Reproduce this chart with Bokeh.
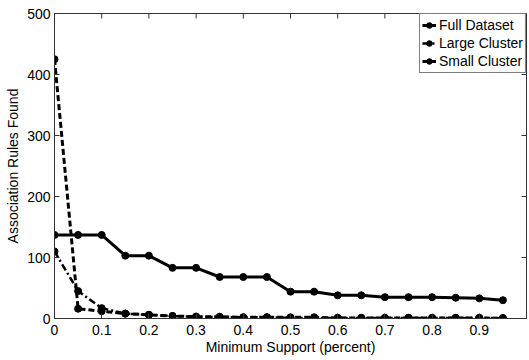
import math
from bokeh.plotting import figure
from bokeh.models import Range1d, FixedTicker, Legend
from bokeh.embed import file_html
from bokeh.resources import INLINE

support = [0.0, 0.05, 0.1, 0.15, 0.2, 0.25, 0.3, 0.35, 0.4, 0.45,
           0.5, 0.55, 0.6, 0.65, 0.7, 0.75, 0.8, 0.85, 0.9, 0.95]
full_dataset = [425, 16, 12, 8, 6, 4, 3, 3, 2, 2, 2, 2, 1, 1, 1, 1, 1, 1, 1, 0]
large_cluster = [110, 45, 17, 8, 6, 4, 3, 2, 2, 2, 1, 1, 1, 1, 1, 1, 1, 1, 1, 1]
small_cluster = [137, 137, 137, 103, 103, 83, 83, 68, 68, 68,
                 44, 44, 38, 38, 35, 35, 35, 34, 33, 30]
x_ticks = [0.0, 0.1, 0.2, 0.3, 0.4, 0.5, 0.6, 0.7, 0.8, 0.9]
x_tick_labels = ["0", "0.1", "0.2", "0.3", "0.4", "0.5", "0.6", "0.7", "0.8", "0.9"]
y_ticks = [0, 100, 200, 300, 400, 500]
x_limits = (0, 1)
y_limits = (0, 500)

FONT = "Liberation Sans"
AX = "#333333"

p = figure(width=529, height=360, output_backend="svg", toolbar_location=None,
           x_range=Range1d(*x_limits), y_range=Range1d(*y_limits),
           min_border_left=54, min_border_right=3, min_border_top=13, min_border_bottom=42)
p.grid.visible = False
p.outline_line_color = AX
p.background_fill_color = "white"
p.border_fill_color = "white"

def style_axis(ax):
    ax.axis_line_color = AX
    ax.major_tick_line_color = AX
    ax.major_tick_in = 5
    ax.major_tick_out = 0
    ax.minor_tick_in = 0
    ax.minor_tick_out = 0
    ax.minor_tick_line_color = None
    ax.major_label_text_font = FONT
    ax.major_label_text_font_size = "14px"
    ax.major_label_text_color = "black"
    ax.axis_label_text_font = FONT
    ax.axis_label_text_font_size = "14px"
    ax.axis_label_text_font_style = "normal"
    ax.axis_label_text_color = "black"

xa = p.xaxis[0]
ya = p.yaxis[0]
style_axis(xa)
style_axis(ya)
xa.ticker = FixedTicker(ticks=x_ticks)
xa.major_label_overrides = {t: l for t, l in zip(x_ticks, x_tick_labels)}
ya.ticker = FixedTicker(ticks=y_ticks)
xa.axis_label = "Minimum Support (percent)"
ya.axis_label = "Association Rules Found"
xa.major_label_standoff = 6
xa.axis_label_standoff = 1
ya.major_label_standoff = 4
ya.axis_label_standoff = 3

# mirrored inward ticks on the top and right edges (clipped to the frame)
p.scatter([x_limits[1]] * len(y_ticks), y_ticks, marker="dash", size=10,
          line_color=AX, line_width=1)
p.scatter(x_ticks, [y_limits[1]] * len(x_ticks), marker="dash", size=10,
          angle=math.pi / 2, line_color=AX, line_width=1)

items = []
series = [("Full Dataset", full_dataset, "6 3", 3),
          ("Large Cluster", large_cluster, "7 3 2 3", 2.5),
          ("Small Cluster", small_cluster, "solid", 3)]
for name, ys, dash, lw in series:
    r1 = p.line(support, ys, line_color="black", line_width=lw, line_dash=dash)
    r2 = p.scatter(support, ys, marker="circle", size=7, fill_color="black", line_color="black")
    items.append((name, [r1, r2]))

legend = Legend(items=items, location="top_right")
legend.label_text_font = FONT
legend.label_text_font_size = "14px"
legend.label_text_color = "black"
legend.glyph_width = 14
legend.glyph_height = 18
legend.label_height = 18
legend.label_standoff = 3
legend.spacing = 0
legend.padding = 2
legend.margin = 0
legend.border_line_color = "black"
legend.border_line_width = 1
legend.background_fill_alpha = 1
p.add_layout(legend)

open("out.html", "w").write(file_html(p, INLINE))
